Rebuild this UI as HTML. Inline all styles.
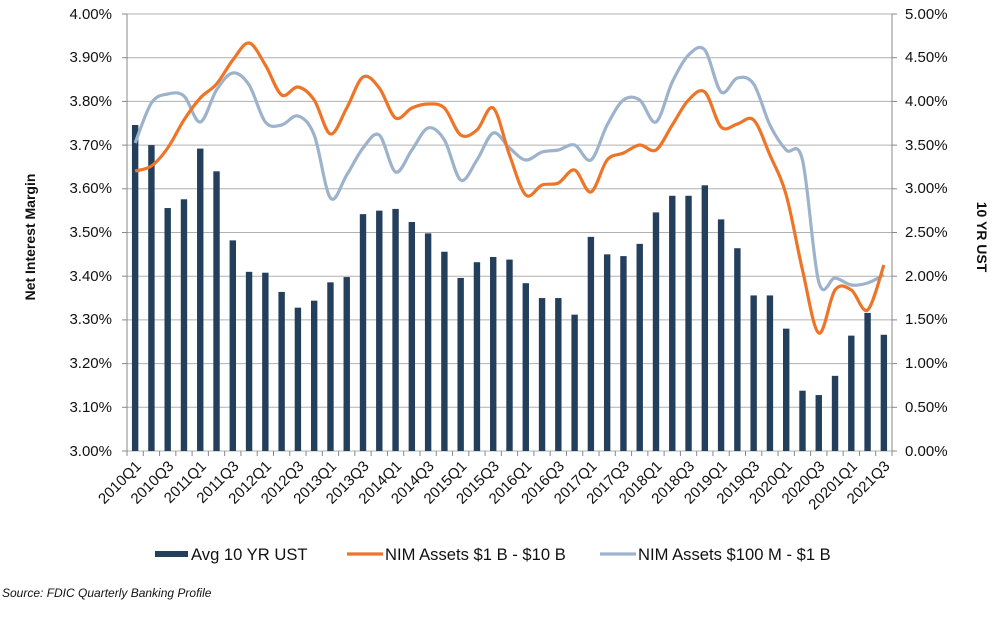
<!DOCTYPE html>
<html><head><meta charset="utf-8"><style>
body{margin:0;background:#fff;}
svg{display:block;font-family:"Liberation Sans",Arial,sans-serif;}
</style></head><body>
<svg id="s" width="1000" height="627" viewBox="0 0 1000 627">
<g id="grid" stroke="#b0b0b0" stroke-width="1"></g>
<g id="bars" fill="#243f5c"></g>
<path id="lb" fill="none" stroke="#9db3cc" stroke-width="3.2"/>
<path id="lo" fill="none" stroke="#ee7527" stroke-width="3.2"/>
<g id="axes" stroke="#888" stroke-width="1"></g>
<g font-size="15" fill="#111" text-anchor="end">
<text x="112" y="19">4.00%</text><text x="112" y="62">3.90%</text><text x="112" y="106">3.80%</text><text x="112" y="150">3.70%</text><text x="112" y="193">3.60%</text><text x="112" y="237">3.50%</text><text x="112" y="281">3.40%</text><text x="112" y="324">3.30%</text><text x="112" y="368">3.20%</text><text x="112" y="412">3.10%</text><text x="112" y="456">3.00%</text>
</g>
<g font-size="15" fill="#111" text-anchor="start">
<text x="905" y="19">5.00%</text><text x="905" y="62">4.50%</text><text x="905" y="106">4.00%</text><text x="905" y="150">3.50%</text><text x="905" y="193">3.00%</text><text x="905" y="237">2.50%</text><text x="905" y="281">2.00%</text><text x="905" y="324">1.50%</text><text x="905" y="368">1.00%</text><text x="905" y="412">0.50%</text><text x="905" y="456">0.00%</text>
</g>
<text transform="translate(35,237) rotate(-90)" font-size="14" font-weight="bold" text-anchor="middle" fill="#111">Net Interest Margin</text>
<text transform="translate(977,237) rotate(90)" font-size="14" font-weight="bold" text-anchor="middle" fill="#111">10 YR UST</text>
<g font-size="15" fill="#111" text-anchor="end">
<text transform="translate(142,467) rotate(-45)">2010Q1</text>
<text transform="translate(174.5,467) rotate(-45)">2010Q3</text>
<text transform="translate(207,467) rotate(-45)">2011Q1</text>
<text transform="translate(239.6,467) rotate(-45)">2011Q3</text>
<text transform="translate(272.2,467) rotate(-45)">2012Q1</text>
<text transform="translate(304.7,467) rotate(-45)">2012Q3</text>
<text transform="translate(337.3,467) rotate(-45)">2013Q1</text>
<text transform="translate(369.8,467) rotate(-45)">2013Q3</text>
<text transform="translate(402.4,467) rotate(-45)">2014Q1</text>
<text transform="translate(434.9,467) rotate(-45)">2014Q3</text>
<text transform="translate(467.5,467) rotate(-45)">2015Q1</text>
<text transform="translate(500,467) rotate(-45)">2015Q3</text>
<text transform="translate(532.6,467) rotate(-45)">2016Q1</text>
<text transform="translate(565.1,467) rotate(-45)">2016Q3</text>
<text transform="translate(597.7,467) rotate(-45)">2017Q1</text>
<text transform="translate(630.2,467) rotate(-45)">2017Q3</text>
<text transform="translate(662.8,467) rotate(-45)">2018Q1</text>
<text transform="translate(695.3,467) rotate(-45)">2018Q3</text>
<text transform="translate(727.9,467) rotate(-45)">2019Q1</text>
<text transform="translate(760.4,467) rotate(-45)">2019Q3</text>
<text transform="translate(793,467) rotate(-45)">2020Q1</text>
<text transform="translate(825.5,467) rotate(-45)">2020Q3</text>
<text transform="translate(858.1,467) rotate(-45)">20201Q1</text>
<text transform="translate(890.6,467) rotate(-45)">2021Q3</text>
</g>
<rect x="155" y="551" width="33" height="6" fill="#243f5c"/>
<text x="191" y="560" font-size="16.6" fill="#111">Avg 10 YR UST</text>
<line x1="347" y1="554" x2="383" y2="554" stroke="#ee7527" stroke-width="3.2"/>
<text x="385" y="560" font-size="16.6" fill="#111">NIM Assets $1 B - $10 B</text>
<line x1="600" y1="554" x2="636" y2="554" stroke="#9db3cc" stroke-width="3.2"/>
<text x="638" y="560" font-size="16.6" fill="#111">NIM Assets $100 M - $1 B</text>
<text x="2" y="597" font-size="12" font-style="italic" fill="#111">Source: FDIC Quarterly Banking Profile</text>
</svg>
<script>
var L=127,R=892,T=14,B=451,N=47,w=(R-L)/N;
var ns="http://www.w3.org/2000/svg";
function el(p,t,a){var e=document.createElementNS(ns,t);for(var k in a)e.setAttribute(k,a[k]);document.getElementById(p).appendChild(e);}
for(var i=0;i<=10;i++){var y=T+(B-T)*i/10;el("grid","line",{x1:L,x2:R,y1:y,y2:y});}
el("axes","line",{x1:L,x2:L,y1:T,y2:B});el("axes","line",{x1:R,x2:R,y1:T,y2:B});
for(var i=0;i<=10;i++){var y=T+(B-T)*i/10;el("axes","line",{x1:L-5,x2:L,y1:y,y2:y});el("axes","line",{x1:R,x2:R+5,y1:y,y2:y});}
for(var i=0;i<=N;i++){var x=L+i*w;el("axes","line",{x1:x,x2:x,y1:B,y2:B+5});}
var bars=[3.73,3.50,2.78,2.88,3.46,3.20,2.41,2.05,2.04,1.82,1.64,1.72,1.93,1.99,2.71,2.75,2.77,2.62,2.49,2.28,1.98,2.16,2.22,2.19,1.92,1.75,1.75,1.56,2.45,2.25,2.23,2.37,2.73,2.92,2.92,3.04,2.65,2.32,1.78,1.78,1.40,0.69,0.64,0.86,1.32,1.58,1.33];
var ph=(B-T)/5;
bars.forEach(function(v,i){var c=L+w*(i+0.5);el("bars","rect",{x:c-3.2,y:B-v*ph,width:6.4,height:v*ph});});
var o=[171,166,148,120,98,84,60,43,65,95,87,100,134,108,77,88,118,108,104,108,135,130,108,155,195,185,183,170,192,160,153,145,150,125,100,92,127,124,120,155,195,270,333,290,290,310,265];
var b=[143,103,94,96,122,90,73,85,122,125,116,135,198,175,148,135,172,150,128,140,180,160,133,148,160,152,150,145,160,125,100,100,122,82,55,50,92,78,84,125,150,160,282,278,285,283,275];
function path(a){var p=a.map(function(y,i){return [L+w*(i+0.5),y];});var d="M"+p[0][0]+","+p[0][1];
for(var i=0;i<p.length-1;i++){var p0=p[Math.max(0,i-1)],p1=p[i],p2=p[i+1],p3=p[Math.min(p.length-1,i+2)];
d+=" C"+(p1[0]+(p2[0]-p0[0])/6)+","+(p1[1]+(p2[1]-p0[1])/6)+" "+(p2[0]-(p3[0]-p1[0])/6)+","+(p2[1]-(p3[1]-p1[1])/6)+" "+p2[0]+","+p2[1];}return d;}
document.getElementById("lo").setAttribute("d",path(o));
document.getElementById("lb").setAttribute("d",path(b));
</script>
</body></html>
